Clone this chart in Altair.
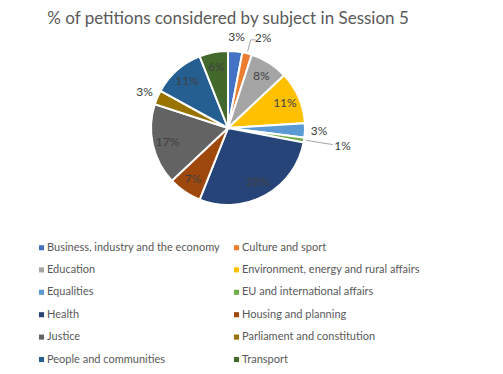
import altair as alt
import pandas as pd

title_text = "% of petitions considered by subject in Session 5"

subjects = [
    "Business, industry and the economy",
    "Culture and sport",
    "Education",
    "Environment, energy and rural affairs",
    "Equalities",
    "EU and international affairs",
    "Health",
    "Housing and planning",
    "Justice",
    "Parliament and constitution",
    "People and communities",
    "Transport",
]
pcts = [3, 2, 8, 11, 3, 1, 28, 7, 17, 3, 11, 6]
colors = [
    "#4472C4", "#ED7D31", "#A5A5A5", "#FFC000", "#5B9BD5", "#70AD47",
    "#264478", "#9E480E", "#636363", "#997300", "#255E91", "#43682B",
]

outside_near = ["Business, industry and the economy", "Equalities", "Parliament and constitution"]
outside_culture = ["Culture and sport"]
outside_eu = ["EU and international affairs"]
outside_all = outside_near + outside_culture + outside_eu

df = pd.DataFrame({"subject": subjects, "pct": pcts, "idx": list(range(len(subjects)))})

FONT = "Lato"
R = 77
CX, CY = 220, 120

def in_list(lst):
    return "indexof([" + ",".join("'" + s + "'" for s in lst) + "], datum.subject) >= 0"

base = alt.Chart(df).encode(
    theta=alt.Theta("pct:Q", stack=True),
    order=alt.Order("idx:Q"),
)

pie = base.mark_arc(outerRadius=R, stroke="white", strokeWidth=2).encode(
    color=alt.Color(
        "subject:N",
        scale=alt.Scale(domain=subjects, range=colors),
        sort=subjects,
        legend=alt.Legend(
            title=None,
            orient="none",
            legendX=28,
            legendY=234,
            columns=2,
            direction="horizontal",
            symbolType="square",
            symbolSize=26,
            symbolStrokeWidth=0,
            labelFont=FONT,
            labelFontSize=11,
            labelColor="#595959",
            labelOffset=0,
            rowPadding=10.4,
            columnPadding=10,
            padding=0,
            labelLimit=300,
        ),
    )
)

inside = base.transform_calculate(
    lab="(" + in_list(outside_all) + ") ? '' : datum.pct + '%'"
).mark_text(radius=62, font=FONT, fontSize=12, color="#404040").encode(text="lab:N")

near = base.transform_calculate(
    lab="(" + in_list(outside_near) + ") ? datum.pct + '%' : ''"
).mark_text(radius=91, font=FONT, fontSize=12, color="#404040").encode(text="lab:N")

cult = base.transform_calculate(
    lab="(" + in_list(outside_culture) + ") ? datum.pct + '%' : ''"
).mark_text(radius=93, dx=12, font=FONT, fontSize=12, color="#404040").encode(text="lab:N")

eu = base.transform_calculate(
    lab="(" + in_list(outside_eu) + ") ? datum.pct + '%' : ''"
).mark_text(radius=116, font=FONT, fontSize=12, color="#404040").encode(text="lab:N")

# leader lines computed from the cumulative angles
lines = (
    alt.Chart(df)
    .transform_window(cum="sum(pct)", sort=[alt.SortField("idx")])
    .transform_calculate(
        mid="(datum.cum - datum.pct / 2) / 100 * 2 * PI",
        r1="79",
        r2="indexof(['EU and international affairs'], datum.subject) >= 0 ? 106 : 91",
    )
    .transform_filter(in_list(outside_culture + outside_eu))
    .transform_calculate(
        x1=f"{CX} + datum.r1 * sin(datum.mid)",
        y1=f"{CY} - datum.r1 * cos(datum.mid)",
        x2=f"{CX} + datum.r2 * sin(datum.mid)",
        y2=f"{CY} - datum.r2 * cos(datum.mid)",
    )
)
rule1 = lines.mark_rule(color="#A6A6A6", strokeWidth=1).encode(
    x=alt.X("x1:Q", scale=None), y=alt.Y("y1:Q", scale=None),
    x2="x2:Q", y2="y2:Q",
)
rule2 = lines.transform_filter(in_list(outside_culture)).transform_calculate(
    x3="datum.x2 + 5"
).mark_rule(color="#A6A6A6", strokeWidth=1).encode(
    x=alt.X("x2:Q", scale=None), y=alt.Y("y2:Q", scale=None),
    x2="x3:Q", y2="y2:Q",
)

title = alt.Chart(pd.DataFrame({"t": [title_text]})).mark_text(
    font=FONT, fontSize=17, color="#595959", baseline="top"
).encode(text="t:N", x=alt.value(CX), y=alt.value(3))

chart = alt.layer(pie, inside, near, cult, eu, rule1, rule2, title).properties(
    width=2 * CX,
    height=2 * CY,
    autosize="none",
    padding={"left": 0, "top": 0, "right": 487 - 2 * CX, "bottom": 358 - 2 * CY},
).configure_view(stroke=None)

chart.save("out.html", embed_options={"renderer": "svg", "actions": False})
